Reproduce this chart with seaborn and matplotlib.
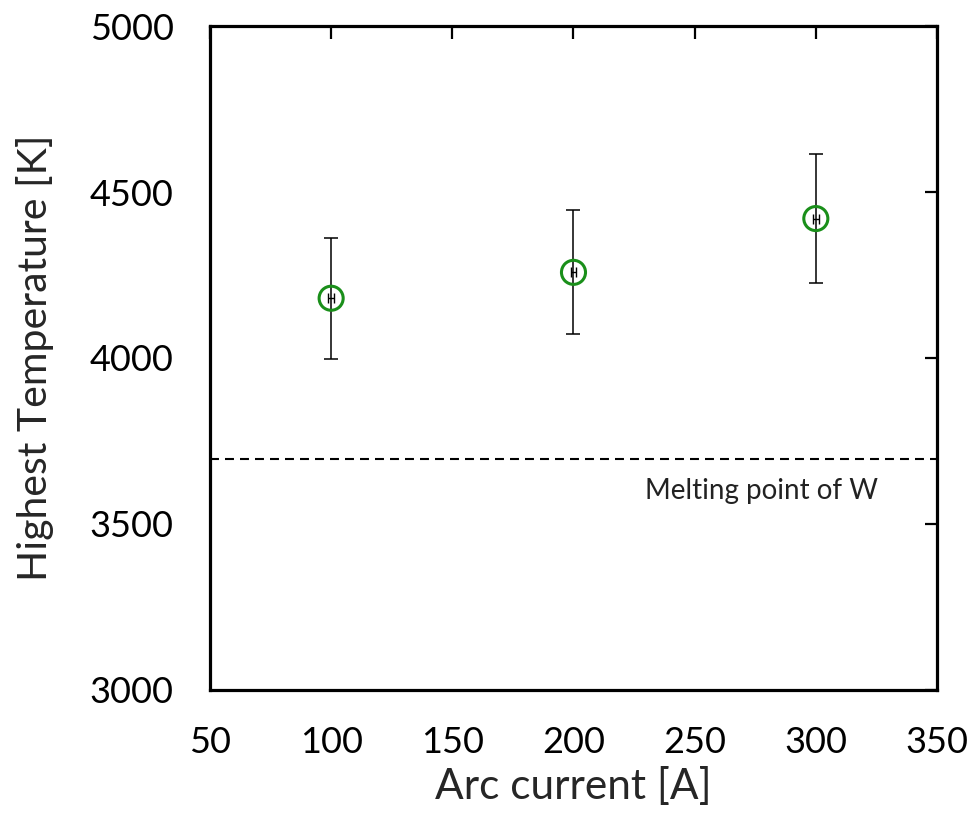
import matplotlib
matplotlib.use("Agg")
import matplotlib.pyplot as plt
import seaborn as sns
import pandas as pd

arc_current = [100, 200, 300]
highest_temp = [4180, 4258, 4420]
temp_err = [182, 187, 194]
current_err = [1.2, 1.2, 1.2]
melting_point_w = 3695
xticks = [50, 100, 150, 200, 250, 300, 350]
yticks = [3000, 3500, 4000, 4500, 5000]

df = pd.DataFrame({"current": arc_current, "temp": highest_temp})

sns.set_style("white")
plt.rcParams['font.family'] = ['Lato', 'DejaVu Sans']

fig = plt.figure(figsize=(9.73, 8.21), dpi=100)
ax = fig.add_axes([0.2158, 0.1596, 0.963 - 0.2158, 0.9683 - 0.1596])

ax.errorbar(arc_current, highest_temp, yerr=temp_err, fmt='none', ecolor='black',
            elinewidth=1.1, capsize=4.8, capthick=1.1, zorder=2)
ax.errorbar(arc_current, highest_temp, xerr=current_err, fmt='none', ecolor='black',
            elinewidth=1.0, capsize=3.6, capthick=1.0, zorder=2)
sns.scatterplot(data=df, x="current", y="temp", ax=ax, marker='o', s=300,
                facecolor='none', edgecolor='#1a8f1a', linewidth=2.2, zorder=3)

ax.axhline(melting_point_w, color='black', linewidth=1.5, linestyle=(0, (4.3, 2.9)), zorder=1)
ax.text(229.5, 3600, "Melting point of W", fontsize=20, va='center', ha='left', color='#222222')

ax.set_xlim(50, 350)
ax.set_ylim(3000, 5000)
ax.set_xticks(xticks)
ax.set_yticks(yticks)
ax.set_xlabel("Arc current [A]", fontsize=30.5, labelpad=6)
ax.set_ylabel("Highest Temperature [K]", fontsize=29.5, labelpad=26)

for s in ax.spines.values():
    s.set_linewidth(2.3)
    s.set_color('black')
ax.tick_params(direction='in', length=9, width=1.6, top=True, right=True,
               labelsize=26, colors='black')
ax.tick_params(axis='y', pad=26)
ax.tick_params(axis='x', pad=26)

fig.savefig("out.png", dpi=100)
